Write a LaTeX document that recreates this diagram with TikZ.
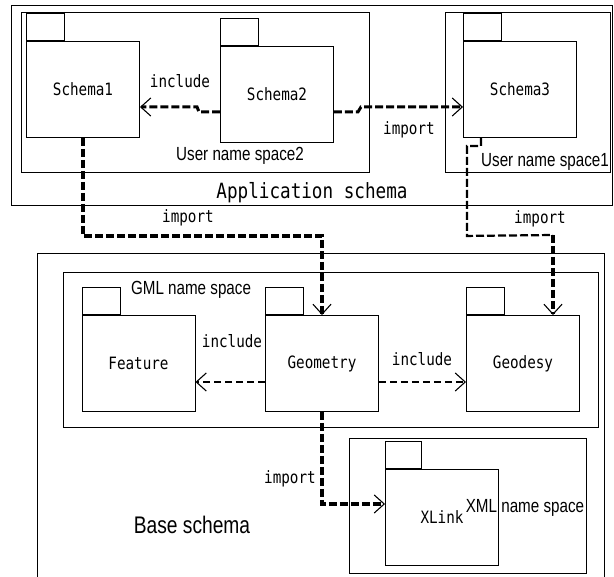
\documentclass[tikz,border=0pt]{standalone}
\usepackage{fontspec}
\setmainfont{Liberation Sans}[FakeStretch=0.8]
\newfontfamily\pkgfont{DejaVu Sans Mono}[FakeStretch=0.84]
\usepackage{tikz}
\usetikzlibrary{calc,arrows.meta,positioning}

\tikzset{
  pkgbody/.style={draw,line width=0.9pt,minimum width=113pt,minimum height=96pt,inner sep=0pt,font=\pkgfont\fontsize{17}{19}\selectfont},
  pkgtab/.style={draw,line width=0.9pt,minimum width=38pt,minimum height=27pt,inner sep=0pt},
  frame/.style={draw,line width=0.9pt,inner sep=0pt},
  monolbl/.style={font=\pkgfont\fontsize{17}{19}\selectfont,inner sep=0pt},
  nslbl/.style={font=\fontsize{19}{21}\selectfont,inner sep=0pt},
  importline/.style={line width=3.5pt,dash pattern=on 8pt off 3pt,-{Straight Barb[length=10pt,width=18pt,line width=1.1pt]}},
  includeline/.style={line width=1.8pt,dash pattern=on 7pt off 4pt,-{Straight Barb[length=10pt,width=18pt,line width=1.1pt]}}
}

\begin{document}
\begin{tikzpicture}[x=1pt,y=-1pt]
\useasboundingbox (0,0) rectangle (614,577);

% application schema
\node[frame,minimum width=601pt,minimum height=200pt] (app) at (311.5,105) {};
\node[frame,minimum width=348pt,minimum height=160pt] (nstwo) at (195,92) {};
\node[frame,minimum width=165pt,minimum height=160pt] (nsone) at (527.5,92) {};

\node[pkgbody] (schemaone) at (83,89.5) {Schema1};
\node[pkgtab,above right=0pt of schemaone.north west] (tabone) {};
\node[pkgbody] (schematwo) at (277,94.5) {Schema2};
\node[pkgtab,above right=0pt of schematwo.north west] (tabtwo) {};
\node[pkgbody] (schemathree) at (520,89.5) {Schema3};
\node[pkgtab,above right=0pt of schemathree.north west] (tabthree) {};

\node[nslbl] (lblnstwo) at (240,156) {User name space2};
\node[nslbl] (lblnsone) at (545,162) {User name space1};
\node[monolbl,font=\pkgfont\fontsize{21}{23}\selectfont] (lblapp) at (312,193) {Application schema};

% base schema
\draw[line width=0.9pt] (37,590) -- (37,253) -- (604,253) -- (604,590); % base box
\node[frame,minimum width=535pt,minimum height=155pt] (gml) at (330.5,349.5) {};
\node[frame,minimum width=237pt,minimum height=135pt] (xml) at (467.5,505.5) {};

\node[pkgbody] (feature) at (138.5,363.5) {Feature};
\node[pkgtab,above right=0pt of feature.north west] (tabfeature) {};
\node[pkgbody] (geometry) at (322,363.5) {Geometry};
\node[pkgtab,above right=0pt of geometry.north west] (tabgeometry) {};
\node[pkgbody] (geodesy) at (523,363.5) {Geodesy};
\node[pkgtab,above right=0pt of geodesy.north west] (tabgeodesy) {};
\node[pkgbody] (xlink) at (442,517.5) {XLink};
\node[pkgtab,minimum width=36pt,above right=0pt of xlink.north west] (tabxlink) {};

\node[nslbl] (lblgml) at (191,290) {GML name space};
\node[nslbl] (lblxml) at (525,508) {XML name space};
\node[nslbl,font=\fontsize{24}{26}\selectfont] (lblbase) at (192,525) {Base schema};

% dependencies
\draw[importline,line width=3pt] ([yshift=-17.5pt]schematwo.west) -- ++(-21,0) -- ++(-2,-5) -- ([yshift=-17.5pt]schemaone.east);
\draw[importline,line width=3pt] ([yshift=-17.5pt]schematwo.east) -- ++(24,0) -- ++(3,-5) -- ([yshift=-17.5pt]schemathree.west);
\draw[importline] (schemaone.south) -- ++(0,98) -| (geometry.north);
\coordinate (bendgeodesy) at ([xshift=30pt]geodesy.north |- 0,235);
\draw[line width=2.2pt,dash pattern=on 8pt off 3pt] ([xshift=-39pt]schemathree.south) -- ++(0,8) -- ++(-14,0) -- ++(0,90) -- (bendgeodesy);
\draw[importline] (bendgeodesy) -- ([xshift=30pt]geodesy.north);
\draw[includeline] ([yshift=-18.5pt]geometry.west) -- ([yshift=-18.5pt]feature.east);
\draw[includeline] ([yshift=-18.5pt]geometry.east) -- ([yshift=-18.5pt]geodesy.west);
\draw[importline] (geometry.south) |- ([yshift=13.5pt]xlink.west);

\node[monolbl] (lblinclone) at (180,81) {include};
\node[monolbl] (lblimpone) at (409,130) {import};
\node[monolbl] (lblimptwo) at (188,218) {import};
\node[monolbl] (lblimpthree) at (540,219) {import};
\node[monolbl] (lblincltwo) at (232,341) {include};
\node[monolbl] (lblinclthree) at (422,359) {include};
\node[monolbl] (lblimpfour) at (290,479) {import};
\end{tikzpicture}
\end{document}
